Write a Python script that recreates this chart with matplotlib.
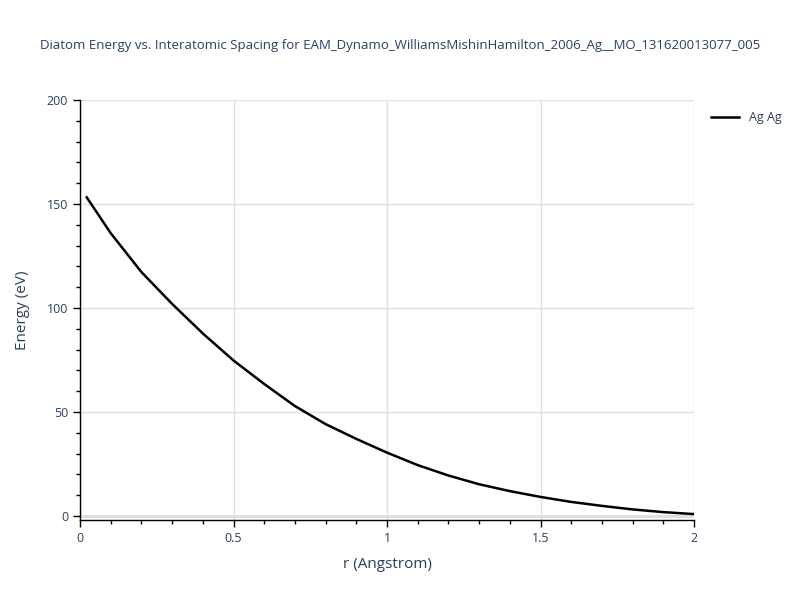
import matplotlib
matplotlib.use("Agg")
import matplotlib.pyplot as plt
from matplotlib.ticker import MultipleLocator

plt.rcParams["font.family"] = ["Open Sans", "DejaVu Sans"]

# Data.
r = [0.022, 0.1, 0.2, 0.3, 0.4, 0.5, 0.6, 0.7, 0.8, 0.9, 1.0,
     1.1, 1.2, 1.3, 1.4, 1.5, 1.6, 1.7, 1.8, 1.9, 2.0]
energy = [153.2, 136, 117.3, 102, 87.8, 74.8, 63.5, 52.9, 44.2, 37.1, 30.5,
          24.5, 19.5, 15.3, 12.0, 9.2, 6.8, 4.9, 3.2, 1.9, 0.95]
series_name = "Ag Ag"
title = "Diatom Energy vs. Interatomic Spacing for EAM_Dynamo_WilliamsMishinHamilton_2006_Ag__MO_131620013077_005"

TEXT = "#2a3f5f"

fig = plt.figure(figsize=(8, 6), dpi=100)
ax = fig.add_axes([0.1, 0.1333, 0.7675, 0.7])

ax.plot(r, energy, color="black", lw=1.8, label=series_name)

ax.set_xlim(0, 2)
ax.set_ylim(-1.9, 200)
ax.xaxis.set_major_locator(MultipleLocator(0.5))
ax.xaxis.set_minor_locator(MultipleLocator(0.1))
ax.yaxis.set_major_locator(MultipleLocator(50))
ax.yaxis.set_minor_locator(MultipleLocator(10))
ax.set_xticks([0, 0.5, 1, 1.5, 2], ["0", "0.5", "1", "1.5", "2"])

ax.grid(True, which="major", color="#e0e0e0", lw=1)
ax.axhline(0, color="#dcdcdc", lw=2, zorder=0)
ax.set_axisbelow(True)

for s in ["top", "right"]:
    ax.spines[s].set_visible(False)
for s in ["left", "bottom"]:
    ax.spines[s].set_color("black")
    ax.spines[s].set_linewidth(1)

ax.tick_params(which="major", length=5, width=1, colors="black", labelcolor=TEXT, labelsize=9)
ax.tick_params(which="minor", length=3, width=1, colors="black")

ax.set_xlabel("r (Angstrom)", color=TEXT, fontsize=11, labelpad=9)
ax.set_ylabel("Energy (eV)", color=TEXT, fontsize=11, labelpad=12)

fig.text(0.5, 0.925, title, ha="center", va="center", color=TEXT, fontsize=9.5)

ax.legend(loc="upper left", bbox_to_anchor=(1.01, 1.0), frameon=False,
          fontsize=9, labelcolor=TEXT, handlelength=2.2)

fig.savefig("out.png", dpi=100)
